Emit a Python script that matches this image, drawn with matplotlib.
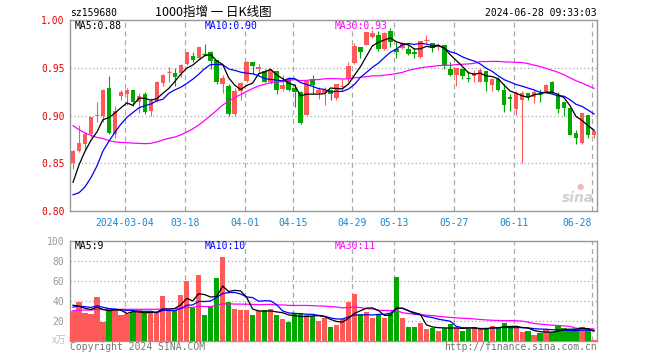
import numpy as np
import pandas as pd
import matplotlib
matplotlib.use('Agg')
import matplotlib.pyplot as plt

# ---------------- data ----------------
opens = [0.850, 0.863, 0.870, 0.881, 0.899, 0.900, 0.929, 0.881, 0.920, 0.922,
         0.927, 0.914, 0.922, 0.905, 0.915, 0.934, 0.945, 0.945, 0.945, 0.954,
         0.962, 0.960, 0.965, 0.967, 0.958, 0.933, 0.931, 0.902, 0.926, 0.936,
         0.956, 0.949, 0.947, 0.935, 0.947, 0.928, 0.938, 0.929, 0.925, 0.901,
         0.938, 0.924, 0.924, 0.927, 0.918, 0.930, 0.938, 0.955, 0.972, 0.974,
         0.982, 0.984, 0.970, 0.989, 0.970, 0.971, 0.970, 0.967, 0.961, 0.979,
         0.976, 0.972, 0.974, 0.949, 0.942, 0.949, 0.940, 0.941, 0.935, 0.947,
         0.932, 0.938, 0.927, 0.919, 0.907, 0.916, 0.924, 0.919, 0.923, 0.924,
         0.935, 0.921, 0.914, 0.908, 0.882, 0.871, 0.901, 0.880]
highs = [0.864, 0.890, 0.883, 0.898, 0.914, 0.928, 0.941, 0.910, 0.927, 0.929,
         0.927, 0.924, 0.925, 0.918, 0.936, 0.943, 0.951, 0.950, 0.954, 0.967,
         0.967, 0.972, 0.975, 0.968, 0.958, 0.942, 0.933, 0.929, 0.935, 0.957,
         0.956, 0.954, 0.949, 0.949, 0.947, 0.942, 0.940, 0.933, 0.926, 0.937,
         0.942, 0.930, 0.930, 0.928, 0.933, 0.938, 0.956, 0.976, 0.972, 0.987,
         0.990, 0.989, 0.987, 0.992, 0.977, 0.977, 0.974, 0.971, 0.978, 0.984,
         0.976, 0.976, 0.974, 0.956, 0.950, 0.950, 0.947, 0.948, 0.950, 0.947,
         0.939, 0.940, 0.933, 0.922, 0.926, 0.926, 0.924, 0.927, 0.928, 0.933,
         0.936, 0.925, 0.914, 0.908, 0.885, 0.903, 0.901, 0.885]
lows = [0.844, 0.862, 0.864, 0.878, 0.893, 0.893, 0.881, 0.876, 0.916, 0.911,
        0.910, 0.903, 0.902, 0.900, 0.914, 0.931, 0.935, 0.931, 0.940, 0.953,
        0.956, 0.959, 0.962, 0.949, 0.933, 0.924, 0.900, 0.900, 0.916, 0.935,
        0.943, 0.943, 0.935, 0.933, 0.923, 0.926, 0.926, 0.909, 0.891, 0.901,
        0.922, 0.917, 0.911, 0.916, 0.916, 0.926, 0.935, 0.954, 0.960, 0.974,
        0.981, 0.968, 0.969, 0.972, 0.960, 0.970, 0.963, 0.960, 0.960, 0.976,
        0.967, 0.969, 0.949, 0.941, 0.931, 0.938, 0.935, 0.935, 0.935, 0.926,
        0.926, 0.926, 0.904, 0.905, 0.901, 0.850, 0.916, 0.913, 0.914, 0.924,
        0.922, 0.903, 0.900, 0.880, 0.870, 0.870, 0.876, 0.876]
closes = [0.863, 0.871, 0.881, 0.898, 0.901, 0.927, 0.882, 0.905, 0.925, 0.927,
          0.914, 0.920, 0.904, 0.915, 0.935, 0.942, 0.946, 0.940, 0.953, 0.967,
          0.958, 0.972, 0.964, 0.957, 0.935, 0.939, 0.902, 0.926, 0.934, 0.956,
          0.952, 0.951, 0.935, 0.948, 0.927, 0.932, 0.927, 0.925, 0.892, 0.936,
          0.932, 0.927, 0.927, 0.922, 0.933, 0.931, 0.952, 0.973, 0.967, 0.987,
          0.986, 0.970, 0.986, 0.977, 0.967, 0.976, 0.964, 0.964, 0.978, 0.980,
          0.971, 0.973, 0.952, 0.942, 0.950, 0.941, 0.939, 0.944, 0.948, 0.935,
          0.938, 0.927, 0.911, 0.917, 0.924, 0.924, 0.919, 0.925, 0.922, 0.932,
          0.924, 0.907, 0.908, 0.880, 0.876, 0.903, 0.880, 0.884]
volumes = [30.1, 39.2, 28.1, 27.1, 44.2, 19.3, 32.8, 32.1, 26.1, 27.1,
           29.1, 30.8, 28.1, 28.1, 28.1, 45.2, 30.1, 31.1, 46.2, 60.3,
           32.8, 66.4, 26.1, 34.1, 63.4, 84.5, 39.2, 32.1, 31.1, 31.1,
           26.1, 30.1, 31.1, 32.1, 26.1, 22.0, 19.0, 27.7, 27.7, 26.1,
           25.0, 20.0, 23.0, 13.9, 15.9, 21.7, 39.2, 47.2, 27.1, 29.1,
           23.0, 26.1, 23.0, 27.1, 64.4, 23.0, 13.9, 13.9, 18.0, 11.9,
           12.9, 9.9, 12.9, 17.0, 12.9, 9.9, 11.9, 13.9, 11.9, 12.9,
           15.0, 12.9, 18.0, 13.9, 13.9, 8.9, 9.9, 5.9, 7.9, 11.9,
           8.9, 14.6, 12.9, 10.9, 11.9, 13.9, 11.9, 0.8]
# closes / volumes of the 29 sessions before the window (only feed the MA lines)
hist_closes = [0.995, 0.985, 0.975, 0.965, 0.960, 0.950, 0.945, 0.940,
               0.935, 0.930, 0.925, 0.915, 0.905, 0.890, 0.880,
               0.895, 0.900, 0.885, 0.875, 0.860,
               0.850, 0.820, 0.800, 0.780, 0.770,
               0.780, 0.810, 0.840, 0.857]
hist_volumes = [24, 26, 25, 27, 23, 28, 30, 26, 25, 29, 31, 27, 28, 30, 33,
                29, 26, 32, 34, 37, 30, 33, 35, 28, 34, 45, 38, 33, 33]
tick_idx = [9, 19, 29, 37, 47, 54, 64, 74, 87]
tick_labels = ['2024-03-04', '03-18', '04-01', '04-15', '04-29',
               '05-13', '05-27', '06-11', '06-28']
price_ticks = [0.80, 0.85, 0.90, 0.95, 1.00]
vol_ticks = [20, 40, 60, 80, 100]

# ---------------- styling ----------------
W, H = 660, 360
RED = '#ff5a5a'
GREEN = '#00a800'
GRID = '#aaaaaa'
FRAME = '#999999'
MONO = 'DejaVu Sans Mono'
CJK = ['Noto Sans CJK SC', 'DejaVu Sans']
FS = 7

def fx(px):
    return px / W

def fy(py):
    return 1 - py / H

fig = plt.figure(figsize=(W / 100, H / 100), dpi=100)
fig.patch.set_facecolor('white')

ax = fig.add_axes([fx(70), fy(211), 527 / W, 191 / H])
axv = fig.add_axes([fx(70), fy(341), 527 / W, 100 / H])

n = len(closes)
x = np.arange(n)
o = np.array(opens); h = np.array(highs); l = np.array(lows); c = np.array(closes)
up = c >= o
cols = np.where(up, RED, GREEN)

# wicks
ax.vlines(x, l, h, colors=cols, linewidth=0.8, zorder=3)
# bodies
body_bot = np.minimum(o, c)
body_h = np.abs(c - o)
flat = body_h < 0.0015
ax.bar(x[~flat], body_h[~flat], bottom=body_bot[~flat], width=0.75,
       color=cols[~flat], linewidth=0, zorder=4)
ax.hlines(((o + c) / 2)[flat], x[flat] - 0.375, x[flat] + 0.375,
          colors=cols[flat], linewidth=0.9, zorder=4)

# moving averages
full_c = pd.Series(hist_closes + closes)
k = len(hist_closes)
ma5 = full_c.rolling(5).mean().values[k:]
ma10 = full_c.rolling(10).mean().values[k:]
ma30 = full_c.rolling(30).mean().values[k:]
ax.plot(x, ma30, color='#ff00ff', lw=0.9, zorder=5)
ax.plot(x, ma10, color='#0000ff', lw=0.9, zorder=5)
ax.plot(x, ma5, color='black', lw=0.9, zorder=6)

# volume
axv.bar(x, volumes, width=0.88, color=cols, linewidth=0, zorder=3)
full_v = pd.Series(hist_volumes + volumes)
kv = len(hist_volumes)
vma5 = full_v.rolling(5).mean().values[kv:]
vma10 = full_v.rolling(10).mean().values[kv:]
vma30 = full_v.rolling(30).mean().values[kv:]
axv.plot(x, vma30, color='#ff00ff', lw=0.9, zorder=5)
axv.plot(x, vma10, color='#0000ff', lw=0.9, zorder=5)
axv.plot(x, vma5, color='black', lw=0.9, zorder=6)

grid_pos = [i - 0.33 for i in tick_idx]
for a in (ax, axv):
    a.set_xlim(-0.5, n - 0.5)
    for s in a.spines.values():
        s.set_color(FRAME)
        s.set_linewidth(1.0)
    a.set_xticks(grid_pos)
    a.xaxis.grid(True, linestyle=(0, (4, 3)), color=GRID, linewidth=0.9)
    a.yaxis.grid(True, linestyle=(0, (1, 2)), color=GRID, linewidth=0.9)
    a.set_axisbelow(True)
    a.tick_params(length=0)

ax.set_ylim(0.80, 1.00)
ax.set_yticks(price_ticks)
ax.set_yticklabels([f'{v:.2f}' for v in price_ticks], color='#ee0000',
                   fontsize=FS, family=MONO)
ax.set_xticklabels(tick_labels, color='#1a86d0', fontsize=FS, family=MONO)
ax.tick_params(axis='x', pad=5)
ax.tick_params(axis='y', pad=4)
ax.get_xticklabels()[-1].set_ha('right')
ax.get_xticklabels()[-1].set_x(grid_pos[-1] + 0.3)

axv.set_ylim(0, 100)
axv.set_yticks(vol_ticks)
axv.set_yticklabels([str(v) for v in vol_ticks], color='#999999',
                    fontsize=FS, family=MONO)
axv.tick_params(axis='y', pad=4)
axv.set_xticklabels([])

# texts
fig.text(fx(70), fy(13), 'sz159680', fontsize=FS, family=MONO, va='center', ha='left')
fig.text(fx(213), fy(12), '1000指增 一 日K线图', fontsize=9, family=CJK,
         va='center', ha='center')
fig.text(fx(597), fy(13), '2024-06-28 09:33:03', fontsize=FS, family=MONO,
         va='center', ha='right')
fig.text(fx(75), fy(26), 'MA5:0.88', fontsize=FS, family=MONO, va='center', color='black')
fig.text(fx(205), fy(26), 'MA10:0.90', fontsize=FS, family=MONO, va='center', color='#0000ff')
fig.text(fx(335), fy(26), 'MA30:0.93', fontsize=FS, family=MONO, va='center', color='#ff00ff')
fig.text(fx(75), fy(246), 'MA5:9', fontsize=FS, family=MONO, va='center', color='black')
fig.text(fx(205), fy(246), 'MA10:10', fontsize=FS, family=MONO, va='center', color='#0000ff')
fig.text(fx(335), fy(246), 'MA30:11', fontsize=FS, family=MONO, va='center', color='#ff00ff')
fig.text(fx(66), fy(340), 'x万', fontsize=7, family=CJK, va='center', ha='right',
         color='#bbbbbb')
fig.text(fx(70), fy(347), 'Copyright 2024 SINA.COM', fontsize=FS, family=MONO,
         va='center', ha='left', color='#777777')
fig.text(fx(597), fy(347), 'http://finance.sina.com.cn', fontsize=FS, family=MONO,
         va='center', ha='right', color='#777777')
# sina watermark
fig.text(fx(594), fy(198), 'sina', fontsize=10, family='DejaVu Sans', style='italic',
         weight='bold', va='center', ha='right', color='#d0d0d0')
fig.text(fx(580), fy(186), '●', fontsize=6, family='DejaVu Sans', va='center',
         ha='center', color='#f4b8b8')

fig.savefig('out.png', dpi=100, facecolor='white')
